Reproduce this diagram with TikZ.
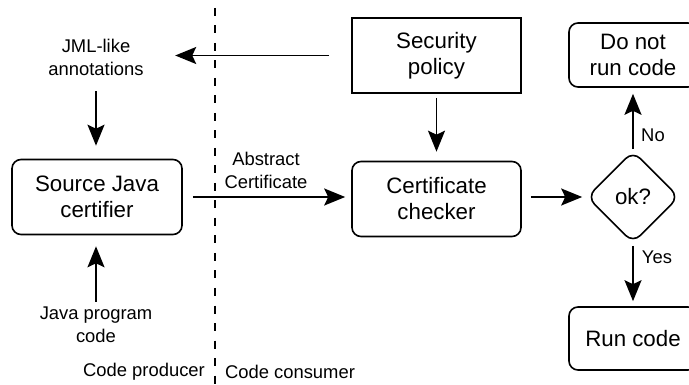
\documentclass[tikz,border=0pt]{standalone}
\usepackage{fontspec}
\setmainfont{Liberation Sans}
\usetikzlibrary{arrows.meta,shapes.geometric}
\begin{document}
\begin{tikzpicture}[x=1pt,y=-1pt,
 box/.style={draw, line width=1.6pt, minimum width=170pt, minimum height=75pt, inner sep=0pt, align=center, font=\fontsize{22.3}{26}\selectfont},
 rbox/.style={box, rounded corners=9pt},
 lbl/.style={inner sep=0pt, align=center, font=\fontsize{18.4}{23}\selectfont},
 arr/.style={-{Stealth[length=21pt,width=17pt,inset=4pt]}, line width=1.9pt},
 divider/.style={line width=1.2pt, dash pattern=on 8pt off 9.5pt},
]
\useasboundingbox (0,0) rectangle (689,385);

\node[rbox] (src) at (97,197) {Source Java\\certifier};
\node[box, minimum width=169pt] (pol) at (436.5,55.5) {Security\\policy};
\node[rbox, minimum width=169pt] (chk) at (436.5,199) {Certificate\\checker};
\node[rbox, minimum width=128pt, minimum height=64pt] (dnr) at (633,55) {Do not\\run code};
\node[rbox, minimum width=128pt, minimum height=63pt] (run) at (633,338.5) {Run code};
\node[draw, diamond, line width=1.6pt, minimum width=92pt, minimum height=92pt, rounded corners=10pt, inner sep=0pt, font=\fontsize{22.3}{26}\selectfont] (ok) at (633,197) {ok?};

\node[lbl, minimum width=158pt, minimum height=68pt] (jml) at (96,57) {JML-like\\annotations};
\node[lbl, minimum height=46pt] (jpc) at (96,325) {Java program\\code};
\node[lbl] (abs) at (266,170) {Abstract\\Certificate};
\node[lbl] (prod) at (144,372) {Code producer};
\node[lbl] (cons) at (290,372) {Code consumer};
\node[lbl] (no) at (653,135) {No};
\node[lbl] (yes) at (657,257) {Yes};

\coordinate (dtop) at (215,8);
\coordinate (dbot) at (215,385);
\draw[divider] (dtop) -- (dbot);

\draw[arr, shorten <=22pt] (pol.west) -- (pol.west -| jml.east);
\draw[arr, shorten >=13pt] (jml.south) -- (jml.south |- src.north);
\draw[arr, shorten >=11pt] (jpc.north) -- (jpc.north |- src.south);
\draw[arr, shorten <=10pt, shorten >=6pt] (src.east) -- (src.east -| chk.west);
\draw[arr, shorten <=4pt, shorten >=9pt] (pol.south) -- (chk.north);
\draw[arr, shorten <=9pt, shorten >=4pt] (chk.east |- ok.west) -- (ok.west);
\draw[arr, shorten <=1pt, shorten >=6pt] (ok.north) -- (dnr.south);
\draw[arr, shorten <=2pt, shorten >=5pt] (ok.south) -- (run.north);
\end{tikzpicture}
\end{document}
